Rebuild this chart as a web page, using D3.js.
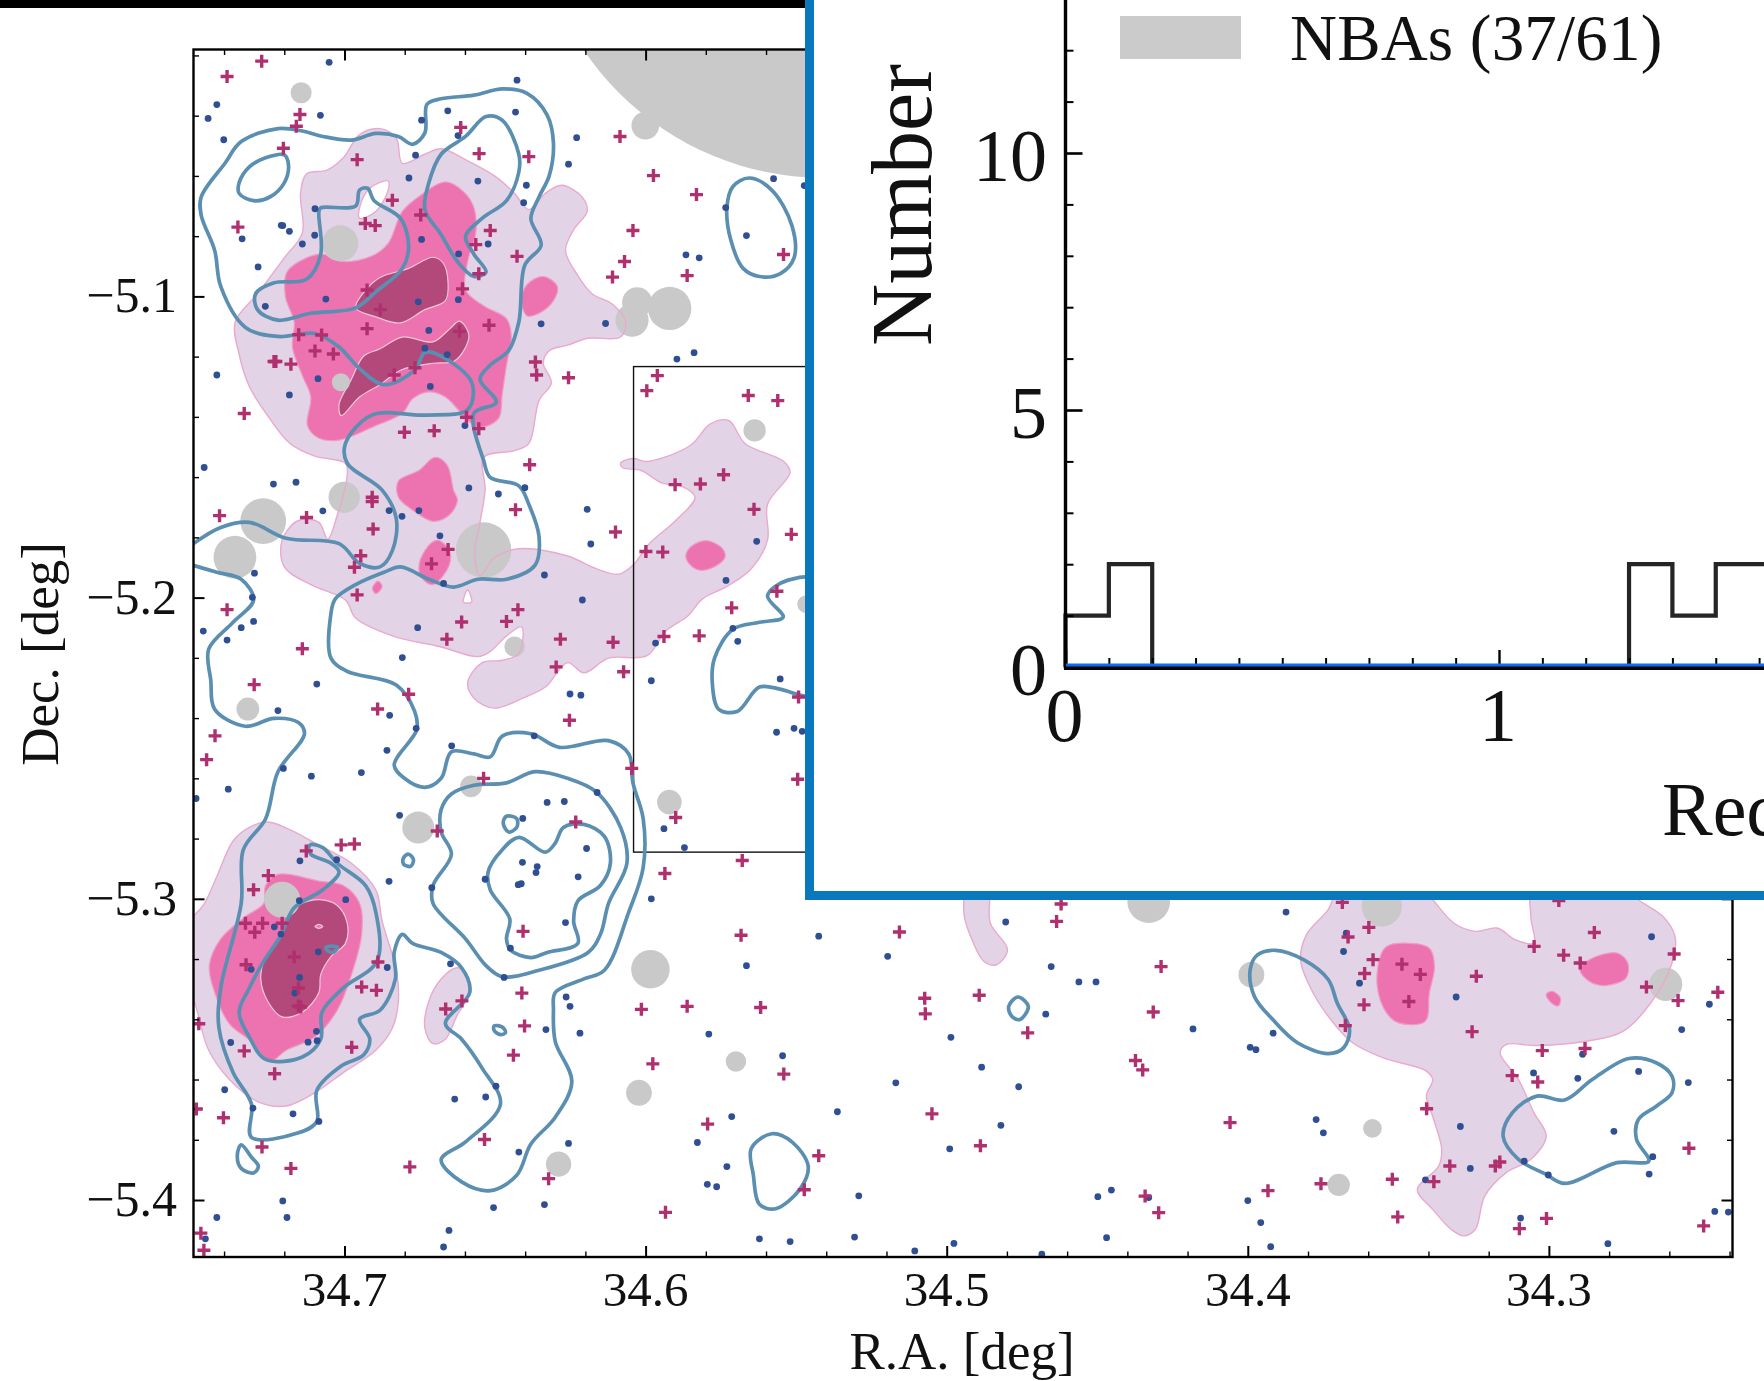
<!DOCTYPE html>
<html><head><meta charset="utf-8">
<script src="https://cdn.jsdelivr.net/npm/d3@7/dist/d3.min.js"></script>
<style>html,body{margin:0;padding:0;background:#fff;overflow:hidden}svg{display:block}text{font-family:"Liberation Serif",serif;fill:#111}</style>
</head><body><svg id="c" width="1764" height="1381"></svg>
<script>
// ---- Field sources [R.A., Dec.] in degrees
const laeCrosses=[[34.7275,-5.0219],[34.7390,-5.0270],[34.7148,-5.0396],[34.7160,-5.0435],[34.7203,-5.0508],[34.6958,-5.0546],[34.6614,-5.0439],[34.6553,-5.0526],[34.6388,-5.0536],[34.6085,-5.0469],[34.5974,-5.0599],[34.5831,-5.0662],[34.6841,-5.0681],[34.6747,-5.0730],[34.6931,-5.0758],[34.6898,-5.0765],[34.7354,-5.0770],[34.6516,-5.0781],[34.6564,-5.0828],[34.6042,-5.0781],[34.6427,-5.0867],[34.6070,-5.0884],[34.6110,-5.0936],[34.5862,-5.0931],[34.5542,-5.0861],[34.6554,-5.0925],[34.6608,-5.0975],[34.6925,-5.0979],[34.6881,-5.1044],[34.6925,-5.1107],[34.6520,-5.1096],[34.6618,-5.1116],[34.7152,-5.1127],[34.7076,-5.1128],[34.7098,-5.1181],[34.7037,-5.1191],[34.7234,-5.1216],[34.7228,-5.1216],[34.7178,-5.1225],[34.6366,-5.1218],[34.6362,-5.1261],[34.6256,-5.1270],[34.6766,-5.1237],[34.6835,-5.1261],[34.7333,-5.1389],[34.6595,-5.1401],[34.6554,-5.1439],[34.6801,-5.1451],[34.6702,-5.1446],[34.5961,-5.1263],[34.5996,-5.1313],[34.5659,-5.1329],[34.5561,-5.1346],[34.6385,-5.1559],[34.5902,-5.1625],[34.5818,-5.1623],[34.5741,-5.1592],[34.5640,-5.1707],[34.6908,-5.1667],[34.6908,-5.1681],[34.7415,-5.1728],[34.7126,-5.1734],[34.6432,-5.1708],[34.6905,-5.1772],[34.6100,-5.1782],[34.5516,-5.1790],[34.6946,-5.1861],[34.6967,-5.1899],[34.6656,-5.1840],[34.6711,-5.1888],[34.5999,-5.1847],[34.5943,-5.1849],[34.6958,-5.1991],[34.5564,-5.1979],
[34.7390,-5.2040],[34.7140,-5.2170],[34.7300,-5.2289],[34.7430,-5.2459],[34.7458,-5.2538],[34.6787,-5.2321],[34.6890,-5.2370],[34.6424,-5.2040],[34.6462,-5.2079],[34.6611,-5.2081],[34.6660,-5.2138],[34.6283,-5.2138],[34.6108,-5.2148],[34.6297,-5.2230],[34.5939,-5.2129],[34.5822,-5.2127],[34.5714,-5.2034],[34.6073,-5.2246],[34.6253,-5.2407],[34.5492,-5.2330],[34.5495,-5.2603],[34.6046,-5.2567],[34.6538,-5.2600],[34.6692,-5.2775],[34.6232,-5.2745],[34.5900,-5.2730],[34.7127,-5.2841],[34.7011,-5.2821],[34.6967,-5.2818],[34.7253,-5.2923],[34.7302,-5.2970],[34.5936,-5.2916],[34.5679,-5.2873],[34.7329,-5.3081],[34.7272,-5.3081],[34.7207,-5.3081],[34.7298,-5.3111],[34.6407,-5.3108],[34.5683,-5.3121],[34.7167,-5.3193],[34.6889,-5.3210],[34.7327,-5.3219],[34.6943,-5.3293],[34.6894,-5.3304],[34.7153,-5.3296],[34.7153,-5.3356],[34.7146,-5.3359],[34.6610,-5.3339],[34.6664,-5.3366],[34.6411,-5.3313],[34.6402,-5.3422],[34.7484,-5.3415],[34.6439,-5.3519],[34.6976,-5.3493],[34.7333,-5.3505],[34.7232,-5.3581],[34.6014,-5.3367],[34.5862,-5.3357],[34.5618,-5.3361],[34.5976,-5.3548],[34.5541,-5.3582],[34.7492,-5.3698],[34.7402,-5.3727],[34.6535,-5.3799],[34.5794,-5.3748],[34.7274,-5.3824],[34.7178,-5.3895],[34.6783,-5.3890],[34.6322,-5.3929],[34.5473,-5.3966],[34.5934,-5.4041],[34.5425,-5.3853],[34.7477,-5.4110],[34.7467,-5.4167],
[34.5157,-5.3110],[34.4620,-5.3017],[34.4635,-5.3075],[34.4288,-5.3225],[34.5073,-5.3330],[34.5071,-5.3382],[34.4892,-5.3320],[34.4314,-5.3376],[34.4731,-5.3445],[34.4373,-5.3537],[34.4349,-5.3568],[34.5049,-5.3714],[34.4888,-5.3820],[34.4059,-5.3743],[34.4341,-5.3987],[34.4296,-5.4042],[34.3933,-5.3969],[34.3757,-5.3946],[34.3520,-5.3931],[34.3502,-5.4056],[34.3382,-5.3939],[34.3329,-5.3887],[34.3178,-5.3887],[34.3163,-5.3874],[34.3406,-5.3697],[34.3122,-5.3587],[34.3037,-5.3608],[34.3255,-5.3441],[34.3241,-5.3257],[34.3022,-5.3504],[34.2880,-5.3497],[34.3686,-5.3012],[34.3598,-5.3095],[34.3667,-5.3127],[34.3584,-5.3202],[34.3488,-5.3217],[34.3427,-5.3251],[34.3612,-5.3248],[34.3614,-5.3352],[34.3465,-5.3341],[34.3676,-5.3421],[34.3049,-5.3158],[34.2849,-5.3112],[34.2951,-5.3187],[34.2896,-5.3213],[34.2584,-5.3183],[34.2676,-5.3293],[34.2571,-5.3338],[34.2439,-5.3310],[34.2535,-5.3828],[34.2486,-5.4086],[34.3008,-5.4061],[34.3098,-5.4095],[34.2967,-5.3006]];
const galaxyDots=[[34.7051,-5.0223],[34.7424,-5.0363],[34.7453,-5.0409],[34.7401,-5.0480],[34.7080,-5.0399],[34.6744,-5.0415],[34.6657,-5.0384],[34.6623,-5.0466],[34.6432,-5.0388],[34.6427,-5.0282],[34.6229,-5.0473],[34.6764,-5.0531],[34.6256,-5.0561],[34.6786,-5.0607],[34.6557,-5.0617],[34.6396,-5.0631],[34.6405,-5.0689],[34.5575,-5.0609],[34.5473,-5.0632],[34.5734,-5.0705],[34.7098,-5.0709],[34.7210,-5.0764],[34.7205,-5.0765],[34.7183,-5.0784],[34.7340,-5.0809],[34.7099,-5.0797],[34.7140,-5.0826],[34.6744,-5.0811],[34.6523,-5.0826],[34.6621,-5.0859],[34.5665,-5.0798],[34.5866,-5.0862],[34.5822,-5.0872],[34.7287,-5.0902],[34.7263,-5.1033],[34.7062,-5.1009],[34.6755,-5.1018],[34.6622,-5.1011],[34.6347,-5.1091],[34.6133,-5.1090],[34.6720,-5.1113],[34.6733,-5.1172],[34.6659,-5.1193],[34.5896,-5.1208],[34.5839,-5.1187],[34.7424,-5.1261],[34.7088,-5.1273],[34.7183,-5.1327],[34.6715,-5.1299],[34.6600,-5.1429],[34.7466,-5.1568],[34.7236,-5.1623],[34.7161,-5.1617],[34.6587,-5.1636],[34.6489,-5.1656],[34.6401,-5.1635],[34.6194,-5.1707],[34.7072,-5.1712],[34.6852,-5.1711],[34.6809,-5.1730],[34.6753,-5.1711],[34.6683,-5.1795],[34.6182,-5.1822],[34.5631,-5.1813],[34.7299,-5.1919],[34.6336,-5.1925],[34.5733,-5.1943],[34.6671,-5.1953],[34.7306,-5.1999],[34.6210,-5.2008],
[34.7469,-5.2111],[34.7390,-5.2141],[34.7343,-5.2100],[34.7302,-5.2079],[34.6757,-5.2100],[34.6808,-5.2199],[34.7092,-5.2287],[34.7221,-5.2375],[34.6850,-5.2391],[34.6762,-5.2434],[34.6859,-5.2507],[34.6644,-5.2492],[34.6370,-5.2459],[34.7203,-5.2567],[34.7110,-5.2593],[34.6944,-5.2581],[34.7386,-5.2636],[34.7493,-5.2667],[34.6251,-5.2320],[34.6215,-5.2324],[34.5967,-5.2151],[34.5710,-5.2102],[34.5694,-5.2145],[34.5981,-5.2276],[34.5553,-5.2270],[34.5565,-5.2447],[34.5507,-5.2434],[34.5480,-5.2444],[34.6161,-5.2647],[34.6327,-5.2680],[34.6270,-5.2677],[34.6408,-5.2733],[34.6817,-5.2723],[34.5939,-5.2767],[34.5871,-5.2830],[34.6196,-5.2833],[34.7148,-5.2874],[34.7026,-5.2870],[34.6409,-5.2879],[34.6360,-5.2893],[34.6364,-5.2913],[34.6224,-5.2927],[34.6533,-5.2935],[34.6852,-5.2942],[34.6710,-5.2963],[34.6413,-5.2950],[34.6423,-5.2953],[34.5981,-5.3000],[34.7150,-5.3006],[34.6996,-5.3003],[34.6266,-5.3079],[34.7233,-5.3093],[34.7211,-5.3117],[34.5425,-5.3124],[34.7087,-5.3176],[34.6449,-5.3164],[34.7310,-5.3234],[34.6858,-5.3228],[34.6648,-5.3216],[34.5665,-5.3222],[34.6470,-5.3261],[34.7149,-5.3261],[34.7165,-5.3313],[34.6264,-5.3326],[34.6251,-5.3357],[34.6331,-5.3434],[34.6218,-5.3446],[34.5790,-5.3449],[34.7093,-5.3440],[34.7091,-5.3471],[34.7121,-5.3476],[34.7378,-5.3477],[34.5545,-5.3521],[34.6497,-5.3622],[34.6531,-5.3658],[34.6634,-5.3665],[34.7398,-5.3634],[34.7304,-5.3695],[34.7171,-5.3714],[34.7085,-5.3739],[34.5714,-5.3723],[34.6256,-5.3812],[34.6421,-5.3841],[34.5828,-5.3809],[34.5730,-5.3889],[34.5795,-5.3948],[34.5764,-5.3956],[34.7205,-5.4003],[34.7191,-5.4058],[34.7424,-5.4058],[34.6505,-5.4025],[34.6336,-5.4015],[34.6653,-5.4101],[34.6671,-5.4156],[34.5622,-5.4129],[34.5520,-5.4138],[34.7462,-5.4129],
[34.5196,-5.3191],[34.4804,-5.3077],[34.4653,-5.3225],[34.4561,-5.3276],[34.4504,-5.3276],[34.4671,-5.3383],[34.4182,-5.3432],[34.3873,-5.3044],[34.3916,-5.3446],[34.3992,-5.3493],[34.3973,-5.3501],[34.4986,-5.3460],[34.4884,-5.3559],[34.5169,-5.3611],[34.4761,-5.3624],[34.5363,-5.3707],[34.4820,-5.3752],[34.4990,-5.3830],[34.5292,-5.3986],[34.4498,-5.3989],[34.4453,-5.3967],[34.4329,-5.3992],[34.4000,-5.4002],[34.3957,-5.4075],[34.5306,-5.4123],[34.4976,-5.4144],[34.5106,-5.4169],[34.4684,-5.4180],[34.4469,-5.4125],[34.3924,-5.4155],[34.3773,-5.3733],[34.3749,-5.3777],[34.3294,-5.3756],[34.3261,-5.3895],[34.3410,-5.3933],[34.3082,-5.3871],[34.3002,-5.3917],[34.3094,-5.4060],[34.2804,-5.4145],[34.2449,-5.4038],[34.2404,-5.4040],[34.2667,-5.3914],[34.2655,-5.3856],[34.2784,-5.3772],[34.2702,-5.3573],[34.2537,-5.3610],[34.2904,-5.3596],[34.3051,-5.3578],[34.2888,-5.3516],[34.2559,-5.3434],[34.2467,-5.3350],[34.2659,-5.3126],[34.3308,-5.3326],[34.3629,-5.3280],[34.3682,-5.3175],[34.3673,-5.3114]];
// ---- Masked regions [R.A., Dec., radius] in degrees
const maskCircles=[[34.5407,-4.9644,0.0963],[34.7144,-5.0324,0.0035],[34.6001,-5.0433,0.0046],[34.7014,-5.0824,0.0060],[34.6028,-5.1020,0.0050],[34.6045,-5.1079,0.0055],[34.5920,-5.1040,0.0072],[34.7012,-5.1285,0.0030],[34.5638,-5.1445,0.0037],[34.7001,-5.1667,0.0052],[34.7270,-5.1746,0.0076],[34.7364,-5.1866,0.0071],[34.6538,-5.1842,0.0092],[34.6435,-5.2163,0.0034],[34.7321,-5.2370,0.0038],[34.6580,-5.2627,0.0036],[34.6755,-5.2763,0.0053],[34.5921,-5.2679,0.0041],[34.7207,-5.3003,0.0060],[34.5984,-5.3234,0.0064],[34.5700,-5.3540,0.0034],[34.6022,-5.3644,0.0043],[34.6289,-5.3881,0.0042],[34.4329,-5.3009,0.0071],[34.3555,-5.3025,0.0067],[34.3988,-5.3252,0.0043],[34.2612,-5.3284,0.0055],[34.3586,-5.3762,0.0031],[34.3698,-5.3950,0.0037],[34.5466,-5.2022,0.0030]];
// ---- Density contours: lowest level
const lowNorth=[[34.6882,-5.0443],[34.6828,-5.0475],[34.6808,-5.0558],[34.6733,-5.0528],[34.6679,-5.0510],[34.6598,-5.0546],[34.6503,-5.0599],[34.6435,-5.0658],[34.6388,-5.0712],[34.6333,-5.0658],[34.6279,-5.0631],[34.6211,-5.0670],[34.6194,-5.0718],[34.6238,-5.0777],[34.6266,-5.0848],[34.6225,-5.0931],[34.6178,-5.0991],[34.6110,-5.1026],[34.6066,-5.1085],[34.6083,-5.1135],[34.6191,-5.1139],[34.6259,-5.1162],[34.6320,-5.1180],[34.6340,-5.1222],[34.6313,-5.1287],[34.6354,-5.1346],[34.6388,-5.1489],[34.6435,-5.1512],[34.6537,-5.1534],[34.6533,-5.1643],[34.6550,-5.1750],[34.6568,-5.1856],[34.6550,-5.1927],[34.6503,-5.1868],[34.6421,-5.1838],[34.6259,-5.1862],[34.6164,-5.1904],[34.6089,-5.1922],[34.6042,-5.1892],[34.5988,-5.1821],[34.5900,-5.1744],[34.5836,-5.1667],[34.5879,-5.1631],[34.5947,-5.1619],[34.6015,-5.1578],[34.6076,-5.1569],[34.6083,-5.1554],[34.6042,-5.1538],[34.5995,-5.1548],[34.5852,-5.1495],[34.5785,-5.1423],[34.5724,-5.1412],[34.5669,-5.1489],[34.5541,-5.1548],[34.5520,-5.1584],[34.5595,-5.1690],[34.5595,-5.1809],[34.5649,-5.1904],[34.5730,-5.1963],[34.5812,-5.2005],[34.5859,-5.2060],[34.5934,-5.2112],[34.5995,-5.2193],[34.6123,-5.2201],[34.6205,-5.2250],[34.6259,-5.2216],[34.6333,-5.2297],[34.6408,-5.2334],[34.6503,-5.2367],[34.6570,-5.2334],[34.6591,-5.2282],[34.6543,-5.2216],[34.6476,-5.2208],[34.6421,-5.2186],[34.6412,-5.2097],[34.6462,-5.2127],[34.6516,-5.2179],[34.6557,-5.2196],[34.6679,-5.2164],[34.6841,-5.2127],[34.6963,-5.2068],[34.6997,-5.2008],[34.7112,-5.1957],[34.7200,-5.1898],[34.7207,-5.1809],[34.7153,-5.1744],[34.7085,-5.1750],[34.7056,-5.1806],[34.7024,-5.1726],[34.6991,-5.1595],[34.6997,-5.1554],[34.7099,-5.1530],[34.7180,-5.1489],[34.7248,-5.1406],[34.7316,-5.1299],[34.7350,-5.1192],[34.7363,-5.1085],[34.7289,-5.0991],[34.7200,-5.0872],[34.7140,-5.0789],[34.7146,-5.0658],[34.7126,-5.0593],[34.7058,-5.0581],[34.7004,-5.0540],[34.6950,-5.0463]];
const lowNorthHoleA=[[34.6855,-5.0617],[34.6855,-5.0647],[34.6896,-5.0718],[34.6950,-5.0741],[34.6950,-5.0706],[34.6916,-5.0641]];
const lowNorthHoleB=[[34.6591,-5.1975],[34.6605,-5.2015],[34.6578,-5.2015]];
const lowWest=[[34.7255,-5.2745],[34.7180,-5.2771],[34.7085,-5.2822],[34.6977,-5.2882],[34.6896,-5.2970],[34.6875,-5.3074],[34.6828,-5.3237],[34.6821,-5.3340],[34.6841,-5.3429],[34.6896,-5.3503],[34.7004,-5.3577],[34.7099,-5.3644],[34.7194,-5.3688],[34.7289,-5.3673],[34.7383,-5.3599],[34.7451,-5.3503],[34.7497,-5.3348],[34.7533,-5.3266],[34.7533,-5.3074],[34.7497,-5.3052],[34.7465,-5.3015],[34.7424,-5.2926],[34.7370,-5.2808],[34.7316,-5.2763]];
const lowLobe=[[34.6625,-5.3229],[34.6587,-5.3266],[34.6584,-5.3311],[34.6625,-5.3385],[34.6665,-5.3466],[34.6706,-5.3481],[34.6733,-5.3429],[34.6720,-5.3340],[34.6679,-5.3266]];
const lowFinger=[[34.4927,-5.2959],[34.4865,-5.2959],[34.4855,-5.3081],[34.4798,-5.3169],[34.4835,-5.3219],[34.4876,-5.3208],[34.4916,-5.3136],[34.4943,-5.3047]];
const lowEast=[[34.3692,-5.2959],[34.3733,-5.3036],[34.3805,-5.3119],[34.3825,-5.3202],[34.3794,-5.3291],[34.3733,-5.3390],[34.3652,-5.3478],[34.3550,-5.3528],[34.3407,-5.3572],[34.3386,-5.3600],[34.3407,-5.3655],[34.3386,-5.3722],[34.3356,-5.3832],[34.3366,-5.3887],[34.3437,-5.3965],[34.3386,-5.4031],[34.3325,-5.4097],[34.3284,-5.4119],[34.3244,-5.4097],[34.3213,-5.3987],[34.3142,-5.3909],[34.3060,-5.3865],[34.3009,-5.3788],[34.3050,-5.3710],[34.3101,-5.3600],[34.3162,-5.3512],[34.3142,-5.3484],[34.3040,-5.3487],[34.2876,-5.3473],[34.2754,-5.3440],[34.2662,-5.3346],[34.2591,-5.3213],[34.2581,-5.3125],[34.2621,-5.3059],[34.2703,-5.3003],[34.2754,-5.2959],[34.3050,-5.2959],[34.3060,-5.3059],[34.3050,-5.3147],[34.3111,-5.3136],[34.3172,-5.3097],[34.3244,-5.3108],[34.3315,-5.3081],[34.3386,-5.3003],[34.3427,-5.2959]];
// ---- Density contours: middle level
const midNorth=[[34.6665,-5.0620],[34.6604,-5.0653],[34.6570,-5.0706],[34.6564,-5.0789],[34.6591,-5.0884],[34.6598,-5.0979],[34.6537,-5.1032],[34.6462,-5.1074],[34.6446,-5.1133],[34.6462,-5.1228],[34.6476,-5.1323],[34.6489,-5.1406],[34.6557,-5.1435],[34.6611,-5.1388],[34.6665,-5.1334],[34.6720,-5.1317],[34.6774,-5.1340],[34.6808,-5.1388],[34.6896,-5.1429],[34.7018,-5.1477],[34.7085,-5.1471],[34.7123,-5.1429],[34.7112,-5.1334],[34.7140,-5.1263],[34.7173,-5.1168],[34.7167,-5.1085],[34.7196,-5.1002],[34.7191,-5.0919],[34.7126,-5.0872],[34.7072,-5.0860],[34.7004,-5.0884],[34.6909,-5.0866],[34.6855,-5.0824],[34.6808,-5.0718],[34.6747,-5.0664]];
const midCentre=[[34.6699,-5.1534],[34.6659,-5.1560],[34.6638,-5.1643],[34.6625,-5.1678],[34.6652,-5.1726],[34.6706,-5.1747],[34.6767,-5.1714],[34.6821,-5.1667],[34.6821,-5.1613],[34.6753,-5.1578]];
const midSpot=[[34.6340,-5.0934],[34.6293,-5.0967],[34.6306,-5.1014],[34.6354,-5.1056],[34.6394,-5.1064],[34.6412,-5.1014],[34.6394,-5.0961]];
const midRight=[[34.5798,-5.1811],[34.5744,-5.1838],[34.5737,-5.1868],[34.5785,-5.1904],[34.5832,-5.1906],[34.5866,-5.1868],[34.5852,-5.1833]];
const midLow=[[34.6692,-5.1809],[34.6652,-5.1844],[34.6652,-5.1892],[34.6706,-5.1957],[34.6740,-5.1939],[34.6753,-5.1904],[34.6733,-5.1844]];
const midTiny=[[34.6889,-5.1945],[34.6875,-5.1963],[34.6896,-5.1987],[34.6907,-5.1969]];
const midWest=[[34.7221,-5.2919],[34.7085,-5.2941],[34.7004,-5.2956],[34.6950,-5.3015],[34.6943,-5.3118],[34.6977,-5.3252],[34.7024,-5.3370],[34.7099,-5.3459],[34.7194,-5.3503],[34.7248,-5.3540],[34.7309,-5.3474],[34.7383,-5.3414],[34.7431,-5.3311],[34.7449,-5.3222],[34.7411,-5.3133],[34.7329,-5.3059],[34.7268,-5.3015],[34.7262,-5.2956]];
const midEastA=[[34.3478,-5.3147],[34.3397,-5.3164],[34.3380,-5.3224],[34.3397,-5.3313],[34.3411,-5.3407],[34.3499,-5.3412],[34.3539,-5.3379],[34.3570,-5.3291],[34.3560,-5.3191],[34.3539,-5.3158]];
const midEastB=[[34.2774,-5.3180],[34.2738,-5.3213],[34.2744,-5.3263],[34.2815,-5.3288],[34.2866,-5.3274],[34.2897,-5.3235],[34.2866,-5.3202]];
const midEastC=[[34.2989,-5.3307],[34.2962,-5.3329],[34.2968,-5.3355],[34.2989,-5.3348],[34.3009,-5.3318]];
// ---- Density contours: top level
const highUpper=[[34.6706,-5.0870],[34.6672,-5.0890],[34.6656,-5.0955],[34.6665,-5.1014],[34.6733,-5.1044],[34.6814,-5.1088],[34.6896,-5.1068],[34.6963,-5.1038],[34.6930,-5.0979],[34.6882,-5.0937],[34.6787,-5.0907]];
const highLower=[[34.6618,-5.1082],[34.6587,-5.1127],[34.6604,-5.1180],[34.6638,-5.1216],[34.6706,-5.1222],[34.6814,-5.1245],[34.6882,-5.1293],[34.6950,-5.1334],[34.7011,-5.1396],[34.7018,-5.1358],[34.6977,-5.1275],[34.6936,-5.1198],[34.6882,-5.1174],[34.6808,-5.1135],[34.6706,-5.1151],[34.6652,-5.1109]];
const highWest=[[34.7085,-5.3003],[34.7024,-5.3022],[34.6991,-5.3081],[34.6997,-5.3148],[34.7045,-5.3192],[34.7079,-5.3252],[34.7085,-5.3311],[34.7140,-5.3377],[34.7207,-5.3392],[34.7255,-5.3340],[34.7278,-5.3266],[34.7268,-5.3207],[34.7214,-5.3126],[34.7180,-5.3044],[34.7140,-5.3015]];
const highWestHole=[[34.7098,-5.3092],[34.7085,-5.3085],[34.7072,-5.3092],[34.7085,-5.3098]];
// ---- Blue contours of the second tracer
const tracerMain=[[34.7505,-5.1823],[34.7411,-5.1767],[34.7316,-5.1750],[34.7194,-5.1803],[34.7018,-5.1821],[34.6950,-5.1886],[34.6882,-5.1898],[34.6841,-5.1844],[34.6828,-5.1738],[34.6875,-5.1643],[34.6991,-5.1554],[34.6997,-5.1489],[34.6909,-5.1394],[34.6733,-5.1394],[34.6591,-5.1376],[34.6577,-5.1287],[34.6679,-5.1198],[34.6733,-5.1186],[34.6767,-5.1245],[34.6869,-5.1293],[34.6950,-5.1240],[34.7018,-5.1168],[34.7099,-5.1123],[34.7221,-5.1133],[34.7329,-5.1103],[34.7411,-5.0967],[34.7431,-5.0848],[34.7476,-5.0730],[34.7476,-5.0670],[34.7397,-5.0558],[34.7343,-5.0486],[34.7221,-5.0443],[34.7140,-5.0451],[34.7072,-5.0469],[34.6977,-5.0481],[34.6896,-5.0459],[34.6821,-5.0469],[34.6774,-5.0495],[34.6733,-5.0457],[34.6726,-5.0362],[34.6679,-5.0344],[34.6570,-5.0332],[34.6476,-5.0311],[34.6394,-5.0326],[34.6327,-5.0398],[34.6306,-5.0492],[34.6320,-5.0599],[34.6354,-5.0670],[34.6381,-5.0741],[34.6347,-5.0830],[34.6401,-5.0896],[34.6421,-5.1085],[34.6455,-5.1180],[34.6516,-5.1228],[34.6550,-5.1275],[34.6496,-5.1352],[34.6570,-5.1388],[34.6537,-5.1548],[34.6516,-5.1601],[34.6421,-5.1629],[34.6388,-5.1690],[34.6354,-5.1797],[34.6367,-5.1892],[34.6462,-5.1939],[34.6557,-5.1939],[34.6638,-5.1965],[34.6720,-5.1939],[34.6814,-5.1898],[34.6869,-5.1916],[34.6963,-5.1957],[34.7031,-5.2005],[34.7045,-5.2053],[34.7045,-5.2201],[34.6991,-5.2245],[34.6828,-5.2290],[34.6767,-5.2378],[34.6760,-5.2438],[34.6835,-5.2556],[34.6801,-5.2600],[34.6733,-5.2630],[34.6679,-5.2600],[34.6645,-5.2512],[34.6570,-5.2519],[34.6516,-5.2529],[34.6476,-5.2460],[34.6381,-5.2452],[34.6286,-5.2497],[34.6123,-5.2475],[34.6056,-5.2519],[34.6042,-5.2615],[34.6008,-5.2734],[34.6008,-5.2896],[34.6056,-5.3044],[34.6137,-5.3237],[34.6205,-5.3266],[34.6300,-5.3311],[34.6306,-5.3370],[34.6300,-5.3474],[34.6245,-5.3607],[34.6300,-5.3725],[34.6381,-5.3814],[34.6428,-5.3918],[34.6516,-5.3969],[34.6611,-5.3940],[34.6679,-5.3866],[34.6598,-5.3807],[34.6482,-5.3681],[34.6543,-5.3562],[34.6611,-5.3466],[34.6665,-5.3414],[34.6584,-5.3311],[34.6611,-5.3229],[34.6679,-5.3178],[34.6774,-5.3148],[34.6808,-5.3118],[34.6835,-5.3178],[34.6831,-5.3266],[34.6882,-5.3370],[34.6950,-5.3400],[34.6916,-5.3466],[34.6936,-5.3518],[34.7011,-5.3555],[34.7092,-5.3636],[34.7092,-5.3740],[34.7153,-5.3777],[34.7309,-5.3792],[34.7309,-5.3681],[34.7370,-5.3577],[34.7417,-5.3429],[34.7411,-5.3296],[34.7343,-5.3015],[34.7336,-5.2837],[34.7262,-5.2734],[34.7221,-5.2578],[34.7133,-5.2452],[34.7153,-5.2415],[34.7234,-5.2401],[34.7329,-5.2427],[34.7431,-5.2371],[34.7444,-5.2275],[34.7451,-5.2171],[34.7370,-5.2082],[34.7302,-5.2008],[34.7343,-5.1939],[34.7424,-5.1916],[34.7505,-5.1892]];
const tracerLoops=[
[[34.7200,-5.0530],[34.7186,-5.0564],[34.7200,-5.0623],[34.7248,-5.0670],[34.7302,-5.0682],[34.7350,-5.0658],[34.7350,-5.0623],[34.7316,-5.0570],[34.7262,-5.0540]],
[[34.6733,-5.0712],[34.6720,-5.0623],[34.6679,-5.0528],[34.6598,-5.0469],[34.6530,-5.0403],[34.6476,-5.0415],[34.6421,-5.0528],[34.6421,-5.0587],[34.6462,-5.0682],[34.6543,-5.0741],[34.6598,-5.0801],[34.6570,-5.0860],[34.6530,-5.0919],[34.6570,-5.0934],[34.6625,-5.0884],[34.6679,-5.0795]],
[[34.7079,-5.0706],[34.6963,-5.0700],[34.6950,-5.0647],[34.6923,-5.0641],[34.6902,-5.0682],[34.6814,-5.0741],[34.6787,-5.0836],[34.6808,-5.0907],[34.6896,-5.0985],[34.6963,-5.1038],[34.7112,-5.1056],[34.7221,-5.1079],[34.7289,-5.1044],[34.7295,-5.0991],[34.7234,-5.0955],[34.7126,-5.0943],[34.7079,-5.0860],[34.7085,-5.0718]],
[[34.7112,-5.2820],[34.7072,-5.2830],[34.7024,-5.2882],[34.6930,-5.2956],[34.6896,-5.3044],[34.6892,-5.3207],[34.7004,-5.3296],[34.7075,-5.3377],[34.7079,-5.3466],[34.7140,-5.3525],[34.7262,-5.3533],[34.7316,-5.3459],[34.7350,-5.3377],[34.7316,-5.3296],[34.7268,-5.3207],[34.7214,-5.3126],[34.7167,-5.3030],[34.7072,-5.2970],[34.7018,-5.2911],[34.7045,-5.2882],[34.7112,-5.2852],[34.7119,-5.2830]],
[[34.6570,-5.2623],[34.6462,-5.2615],[34.6367,-5.2578],[34.6259,-5.2600],[34.6164,-5.2645],[34.6083,-5.2763],[34.6062,-5.2882],[34.6123,-5.3015],[34.6150,-5.3118],[34.6191,-5.3178],[34.6354,-5.3237],[34.6476,-5.3259],[34.6530,-5.3222],[34.6598,-5.3133],[34.6706,-5.3015],[34.6706,-5.2956],[34.6645,-5.2852],[34.6679,-5.2778],[34.6679,-5.2704],[34.6645,-5.2652]],
[[34.6421,-5.2796],[34.6333,-5.2845],[34.6300,-5.2815],[34.6273,-5.2763],[34.6205,-5.2753],[34.6137,-5.2793],[34.6117,-5.2882],[34.6150,-5.2956],[34.6225,-5.3007],[34.6239,-5.3074],[34.6225,-5.3148],[34.6327,-5.3178],[34.6381,-5.3195],[34.6449,-5.3170],[34.6462,-5.3133],[34.6451,-5.3067],[34.6516,-5.2970],[34.6523,-5.2911],[34.6476,-5.2837]],
[[34.6462,-5.2726],[34.6428,-5.2734],[34.6428,-5.2763],[34.6455,-5.2778],[34.6473,-5.2748]],
[[34.6787,-5.2852],[34.6771,-5.2870],[34.6780,-5.2892],[34.6804,-5.2885],[34.6804,-5.2864]],
[[34.6503,-5.3422],[34.6476,-5.3426],[34.6465,-5.3444],[34.6482,-5.3451],[34.6503,-5.3437]],
[[34.7343,-5.3817],[34.7309,-5.3858],[34.7286,-5.3888],[34.7302,-5.3910],[34.7343,-5.3895],[34.7356,-5.3851]],
[[34.5581,-5.3780],[34.5514,-5.3807],[34.5460,-5.3888],[34.5486,-5.3962],[34.5568,-5.4029],[34.5622,-5.4014],[34.5642,-5.3918],[34.5649,-5.3829]],
[[34.7061,-5.3160],[34.7024,-5.3160],[34.7038,-5.3178],[34.7058,-5.3170]],
[[34.5656,-5.0607],[34.5581,-5.0647],[34.5514,-5.0765],[34.5507,-5.0872],[34.5554,-5.0925],[34.5622,-5.0934],[34.5676,-5.0907],[34.5717,-5.0813],[34.5730,-5.0706],[34.5710,-5.0635]],
[[34.5378,-5.1950],[34.5527,-5.1942],[34.5595,-5.1994],[34.5543,-5.2065],[34.5622,-5.2082],[34.5710,-5.2105],[34.5771,-5.2201],[34.5778,-5.2290],[34.5757,-5.2371],[34.5696,-5.2378],[34.5622,-5.2297],[34.5554,-5.2304],[34.5473,-5.2327],[34.5378,-5.2334]],
[[34.3907,-5.3171],[34.3815,-5.3202],[34.3733,-5.3268],[34.3703,-5.3346],[34.3662,-5.3434],[34.3682,-5.3495],[34.3733,-5.3514],[34.3835,-5.3478],[34.3917,-5.3401],[34.3978,-5.3324],[34.3992,-5.3235],[34.3968,-5.3186]],
[[34.4763,-5.3326],[34.4729,-5.3357],[34.4757,-5.3401],[34.4784,-5.3390],[34.4794,-5.3357]],
[[34.2734,-5.3530],[34.2642,-5.3545],[34.2591,-5.3589],[34.2591,-5.3644],[34.2642,-5.3688],[34.2703,-5.3733],[34.2709,-5.3799],[34.2668,-5.3871],[34.2774,-5.3876],[34.2948,-5.3945],[34.3009,-5.3915],[34.3101,-5.3865],[34.3152,-5.3788],[34.3121,-5.3710],[34.3040,-5.3655],[34.2948,-5.3668],[34.2856,-5.3600]]
];
// Sub-field box corners (R.A. left, R.A. right, Dec. top, Dec. bottom)
const subField=[34.604,34.443,-5.1233,-5.2845];
// ---- Main-panel axes
const raMajor=[34.7,34.6,34.5,34.4,34.3];
const raMinor=[34.74,34.72,34.68,34.66,34.64,34.62,34.58,34.56,34.54,34.52,34.48,34.46,34.44,34.42,34.38,34.36,34.34,34.32,34.28,34.26,34.24];
const decMajor=[-5.1,-5.2,-5.3,-5.4];
const decMinor=[-5.02,-5.04,-5.06,-5.08,-5.12,-5.14,-5.16,-5.18,-5.22,-5.24,-5.26,-5.28,-5.32,-5.34,-5.36,-5.38];
// ---- Inset histogram
const binEdges=[0,0.1,0.2,1.3,1.4,1.5,1.7];
const binCounts=[1,2,0,2,1,2];
const insetXMajor=[0,1];
const insetXMinor=[0.1,0.2,0.3,0.4,0.5,0.6,0.7,0.8,0.9,1.1,1.2,1.3,1.4,1.5,1.6];
const insetYMajor=[0,5,10];
const insetYMinor=[1,2,3,4,6,7,8,9,11,12];
const legendLabel="NBAs (37/61)";

const svg=d3.select("#c");
const x=d3.scaleLinear().domain([34.75015,34.23902]).range([193.5,1732.5]);
const y=d3.scaleLinear().domain([-5.01803,-5.41892]).range([49.5,1257]);
svg.append("rect").attr("x",0).attr("y",0).attr("width",808).attr("height",8).attr("fill","#000");
svg.append("defs").append("clipPath").attr("id","f").append("rect").attr("x",193.5).attr("y",49.5).attr("width",1539).attr("height",1207.5);
const g=svg.append("g").attr("clip-path","url(#f)");
const closed=d3.line().x(d=>x(d[0])).y(d=>y(d[1])).curve(d3.curveCatmullRomClosed.alpha(0.5));
const open=d3.line().x(d=>x(d[0])).y(d=>y(d[1])).curve(d3.curveCatmullRom.alpha(0.5));

const lowShapes=[[lowNorth,lowNorthHoleA,lowNorthHoleB],[lowWest],[lowLobe],[lowFinger],[lowEast]];
const midShapes=[[midNorth],[midCentre],[midSpot],[midRight],[midLow],[midTiny],[midWest],[midEastA],[midEastB],[midEastC]];
const highShapes=[[highUpper],[highLower],[highWest,highWestHole]];
const shapePath=s=>s.map(r=>closed(r)).join("");
g.selectAll(".low").data(lowShapes).join("path").attr("d",shapePath).attr("fill","#e2d3e6").attr("fill-rule","evenodd");
g.selectAll(".mid").data(midShapes).join("path").attr("d",shapePath).attr("fill","#ec72b0").attr("stroke","#f09cc6").attr("stroke-width",1.2).attr("fill-rule","evenodd");
g.selectAll(".high").data(highShapes).join("path").attr("d",shapePath).attr("fill","#b3497a").attr("stroke","#f1c6da").attr("stroke-width",1.2).attr("fill-rule","evenodd");
g.selectAll(".mask").data(maskCircles).join("circle")
 .attr("cx",d=>x(d[0])).attr("cy",d=>y(d[1])).attr("r",d=>Math.abs(x(d[0]+d[2])-x(d[0]))).attr("fill","#c9c9c9");
g.selectAll(".lowline").data(lowShapes).join("path").attr("d",shapePath).attr("fill","none").attr("stroke","#e9aacd").attr("stroke-width",1.4);
g.append("rect").attr("x",x(subField[0])).attr("y",y(subField[2])).attr("width",x(subField[1])-x(subField[0])).attr("height",y(subField[3])-y(subField[2])).attr("fill","none").attr("stroke","#111").attr("stroke-width",1.4);
g.append("path").attr("d",open(tracerMain)).attr("fill","none").attr("stroke","#5b8fb1").attr("stroke-width",3.7);
g.selectAll(".loop").data(tracerLoops).join("path").attr("d",d=>closed(d)).attr("fill","none").attr("stroke","#5b8fb1").attr("stroke-width",3.7);
g.selectAll(".dot").data(galaxyDots).join("circle").attr("cx",d=>x(d[0])).attr("cy",d=>y(d[1])).attr("r",3.4).attr("fill","#2f4f92");
const plus={draw(c,s){const r=Math.sqrt(s)/2;c.moveTo(-r,0);c.lineTo(r,0);c.moveTo(0,-r);c.lineTo(0,r);}};
g.selectAll(".cross").data(laeCrosses).join("path").attr("d",d3.symbol().type(plus).size(169)).attr("transform",d=>`translate(${x(d[0])},${y(d[1])})`).attr("fill","none").attr("stroke","#b02f6e").attr("stroke-width",3.4);

// axes with inward ticks on all four sides
function ticks(axis,vals,len,tx,stroke){
  const a=axis.tickValues(vals).tickSizeInner(-len).tickSizeOuter(0).tickFormat("");
  const s=svg.append("g").attr("transform",tx).call(a);
  s.select(".domain").remove();
  s.selectAll("line").attr("stroke","#000").attr("stroke-width",stroke);
  return s;
}
const B=`translate(0,1257)`,T=`translate(0,49.5)`,L=`translate(193.5,0)`,R=`translate(1732.5,0)`;
ticks(d3.axisBottom(x),raMinor,5.5,B,1.4);ticks(d3.axisBottom(x),raMajor,11,B,2);
ticks(d3.axisTop(x),raMinor,5.5,T,1.4);ticks(d3.axisTop(x),raMajor,11,T,2);
ticks(d3.axisLeft(y),decMinor,5.5,L,1.4);ticks(d3.axisLeft(y),decMajor,11,L,2);
ticks(d3.axisRight(y),decMinor,5.5,R,1.4);ticks(d3.axisRight(y),decMajor,11,R,2);
svg.append("rect").attr("x",193.5).attr("y",49.5).attr("width",1539).attr("height",1207.5).attr("fill","none").attr("stroke","#000").attr("stroke-width",2.4);
svg.selectAll(".xl").data(raMajor).join("text").attr("x",d=>x(d)).attr("y",1306).attr("text-anchor","middle").attr("font-size",49).text(d=>d.toFixed(1));
svg.selectAll(".yl").data(decMajor).join("text").attr("x",177).attr("y",d=>y(d)+16).attr("text-anchor","end").attr("font-size",50).text(d=>"\u2212"+Math.abs(d).toFixed(1));
svg.append("text").attr("x",962).attr("y",1369).attr("text-anchor","middle").attr("font-size",53).text("R.A. [deg]");
svg.append("text").attr("transform","translate(58,654) rotate(-90)").attr("text-anchor","middle").attr("font-size",53).text("Dec. [deg]");

// inset panel
svg.append("rect").attr("x",809.5).attr("y",-20).attr("width",1000).attr("height",915.5).attr("fill","#fff").attr("stroke","#0a78bd").attr("stroke-width",9);
const ix=d3.scaleLinear().domain([0,1]).range([1065.5,1499]);
const iy=d3.scaleLinear().domain([0,10]).range([667,153]);
const steps=[[binEdges[0],0]];
binCounts.forEach((c,i)=>{steps.push([binEdges[i],c]);steps.push([binEdges[i+1],c]);});
svg.append("path").attr("d",d3.line().x(d=>ix(d[0])).y(d=>iy(d[1]))(steps)).attr("fill","none").attr("stroke","#252525").attr("stroke-width",4.2);
ticks(d3.axisBottom(ix),insetXMinor,9,"translate(0,667)",2);ticks(d3.axisBottom(ix),insetXMajor,17,"translate(0,667)",2.4);
ticks(d3.axisLeft(iy),insetYMinor,8,"translate(1065.5,0)",2);ticks(d3.axisLeft(iy),insetYMajor,17,"translate(1065.5,0)",2.6);
svg.append("line").attr("x1",1065.5).attr("x2",1065.5).attr("y1",0).attr("y2",669).attr("stroke","#000").attr("stroke-width",3.4);
svg.append("line").attr("x1",1064).attr("x2",1764).attr("y1",668).attr("y2",668).attr("stroke","#000").attr("stroke-width",4);
svg.append("line").attr("x1",1066).attr("x2",1764).attr("y1",665).attr("y2",665).attr("stroke","#0d6cf5").attr("stroke-width",3);
svg.selectAll(".ixl").data(insetXMajor).join("text").attr("x",d=>ix(d)-1).attr("y",741).attr("text-anchor","middle").attr("font-size",76).text(d=>d);
svg.selectAll(".iyl").data(insetYMajor).join("text").attr("x",1047).attr("y",d=>iy(d)+28).attr("text-anchor","end").attr("font-size",74).text(d=>d);
svg.append("text").attr("transform","translate(931,205) rotate(-90)").attr("text-anchor","middle").attr("font-size",86).text("Number");
svg.append("text").attr("x",1662).attr("y",835).attr("font-size",76).text("Redshift");
svg.append("rect").attr("x",1120).attr("y",16).attr("width",121).attr("height",43).attr("fill","#cbcbcb");
svg.append("text").attr("x",1290).attr("y",60).attr("font-size",65).attr("letter-spacing",0.2).text(legendLabel);
</script></body></html>
